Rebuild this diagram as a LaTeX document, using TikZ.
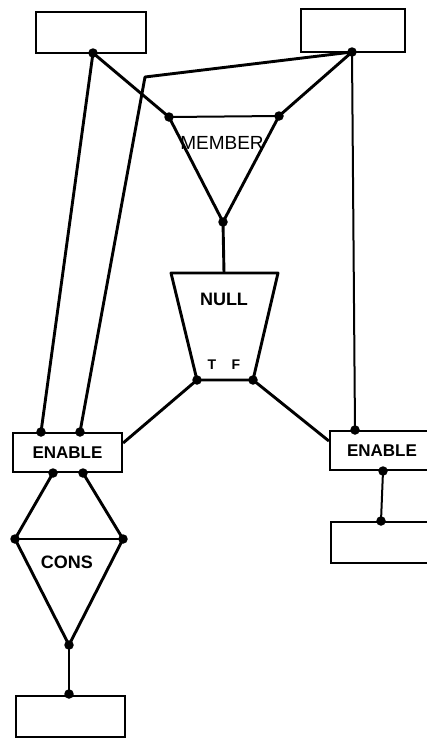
\documentclass[tikz,border=0pt]{standalone}
\usepackage{fontspec}
\setmainfont{Liberation Sans}
\begin{document}
\begin{tikzpicture}[x=1pt,y=-1pt,
  wire/.style={line width=2.9pt, line join=round},
  thin wire/.style={line width=2pt},
  box/.style={draw, line width=2.2pt, rectangle, inner sep=0pt},
  pin/.style={circle, fill=black, inner sep=0pt, minimum size=9.5pt},
  lbl/.style={font=\fontsize{19}{19}\selectfont, inner sep=0pt},
  blbl/.style={font=\fontsize{18}{18}\selectfont\bfseries, inner sep=0pt},
  elbl/.style={font=\fontsize{17}{17}\selectfont\bfseries, inner sep=0pt},
  tf/.style={font=\fontsize{14}{14}\selectfont\bfseries, inner sep=0pt}]
\useasboundingbox (0,0) rectangle (427,739);
\clip (0,0) rectangle (427,739);

% boxes
\node[box, minimum width=110pt, minimum height=41pt] (tl) at (91,32.5) {};
\node[box, minimum width=104pt, minimum height=43pt] (tr) at (353,30.5) {};
\node[box, minimum width=109pt, minimum height=39pt] (enL) at (67.5,452.5) {};
\node[elbl] at (enL.center) {ENABLE};
\node[box, minimum width=104pt, minimum height=39pt] (enR) at (382,450.5) {};
\node[elbl] at (enR.center) {ENABLE};
\node[box, minimum width=104pt, minimum height=41pt] (br) at (383,542.5) {};
\node[box, minimum width=109pt, minimum height=41pt] (bl) at (70.5,716.5) {};

% pins on the boxes
\node[pin] (tlp) at (93,53) {};
\node[pin] (trp) at (352,52) {};
\node[pin] (enLa) at (41,432) {};
\node[pin] (enLb) at (80,432) {};
\node[pin] (enLc) at (53,473) {};
\node[pin] (enLd) at (83,473) {};
\node[pin] (enRa) at (355,430) {};
\node[pin] (enRb) at (383,471) {};
\node[pin] (brp) at (381,521) {};
\node[pin] (blp) at (69,694) {};

% MEMBER triangle
\node[pin] (m1) at (169,117) {};
\node[pin] (m2) at (279,116) {};
\node[pin] (m3) at (223,222) {};
\draw[thin wire] (m1.center) -- (m2.center);
\draw[wire] (m1.center) -- (m3.center) -- (m2.center);
\node[lbl] (mlbl) at (222,143) {MEMBER};

% NULL trapezoid
\coordinate (n1) at (171,273);
\coordinate (n2) at (278,273);
\node[pin] (nT) at (197,380) {};
\node[pin] (nF) at (253,380) {};
\draw[wire] (n1) -- (n2) -- (nF.center) -- (nT.center) -- cycle;
\coordinate (ntop) at (224,273);
\node[blbl] (nlbl) at (224,299) {NULL};
\node[tf] (tlbl) at (212,365) {T};
\node[tf] (flbl) at (236,365) {F};

% CONS diamond
\node[pin] (c1) at (15,539) {};
\node[pin] (c2) at (123,539) {};
\node[pin] (c3) at (69,645) {};
\draw[thin wire] (c1.center) -- (c2.center);
\draw[wire] (c1.center) -- (c3.center) -- (c2.center);
\node[blbl] (clbl) at (67,562) {CONS};

% connectors
\coordinate (bend) at (145,77);
\draw[wire] (tlp.center) -- (enLa.center);
\draw[wire] (trp.center) -- (bend) -- (enLb.center);
\draw[wire] (tlp.center) -- (m1.center);
\draw[wire] (trp.center) -- (m2.center);
\draw[thin wire] (trp.center) -- (enRa.center);
\draw[wire] (m3.center) -- (ntop);
\draw[wire] (nT.center) -- (enL.east |- 0,443);
\draw[wire] (nF.center) -- (enR.west |- 0,441);
\draw[wire] (enLc.center) -- (c1.center);
\draw[wire] (enLd.center) -- (c2.center);
\draw[wire] (c3.center) -- (blp.center);
\draw[thin wire] (enRb.center) -- (brp.center);
\end{tikzpicture}
\end{document}
